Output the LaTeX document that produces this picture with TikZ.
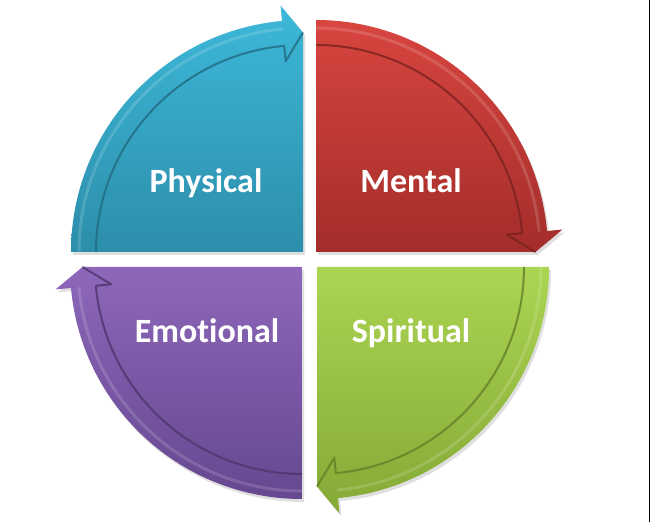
\documentclass[tikz,border=0pt]{standalone}
\usepackage{fontspec}
\setmainfont{Carlito}[Ligatures={NoCommon,NoContextual}]
\usetikzlibrary{shadows}
\definecolor{physTop}{HTML}{3DB8D9}
\definecolor{physBot}{HTML}{2C8EAA}
\definecolor{mentTop}{HTML}{D8453F}
\definecolor{mentBot}{HTML}{A32D2A}
\definecolor{spirTop}{HTML}{ABD552}
\definecolor{spirBot}{HTML}{84A936}
\definecolor{emotTop}{HTML}{8E67BA}
\definecolor{emotBot}{HTML}{654890}

\begin{document}
\begin{tikzpicture}[x=1pt, y=1pt,
    quarter/.style={drop shadow={opacity=0.25, shadow xshift=2pt, shadow yshift=-3pt}},
    rim/.style={line width=2pt, line join=round, opacity=0.8},
    gloss/.style={white, opacity=0.15, line width=3pt},
    word/.style={text=white, font=\fontsize{34}{40}\selectfont\bfseries, anchor=base}]
    \useasboundingbox[fill=white] (0,0) rectangle (651,522);
    % the four quarters, each ending in an arrow head
    \foreach \nm/\cx/\cy/\a in {phys/303/270/180, ment/316/270/90, spir/317/255/0, emot/302/255/-90} {
        \pgfmathsetmacro\h{\a-84.8}
        \pgfmathsetmacro\e{\a-90}
        \begin{scope}[shift={(\cx,\cy)}]
            \shade[quarter, top color=\nm Top, bottom color=\nm Bot]
                (0,0) -- (\a:232) arc[start angle=\a, end angle=\h, radius=232]
                -- (\h:247.5) -- (\e:219.5) -- cycle;
            \draw[gloss] (\a:224) arc[start angle=\a, end angle=\h, radius=224];
            \draw[rim, \nm Bot!75!black] (\a:207) arc[start angle=\a, end angle=\h, radius=207]
                -- (\h:191.5) -- (\e:219.5);
        \end{scope}
    }
    \node[word] (physical) at (206,329) {Physical};
    \node[word] (mental) at (411,329) {Mental};
    \node[word] (emotional) at (207,179) {Emotional};
    \node[word] (spiritual) at (411,179) {Spiritual};
    \draw[line width=1.5pt] (649.6,0) -- (649.6,522);
\end{tikzpicture}
\end{document}
